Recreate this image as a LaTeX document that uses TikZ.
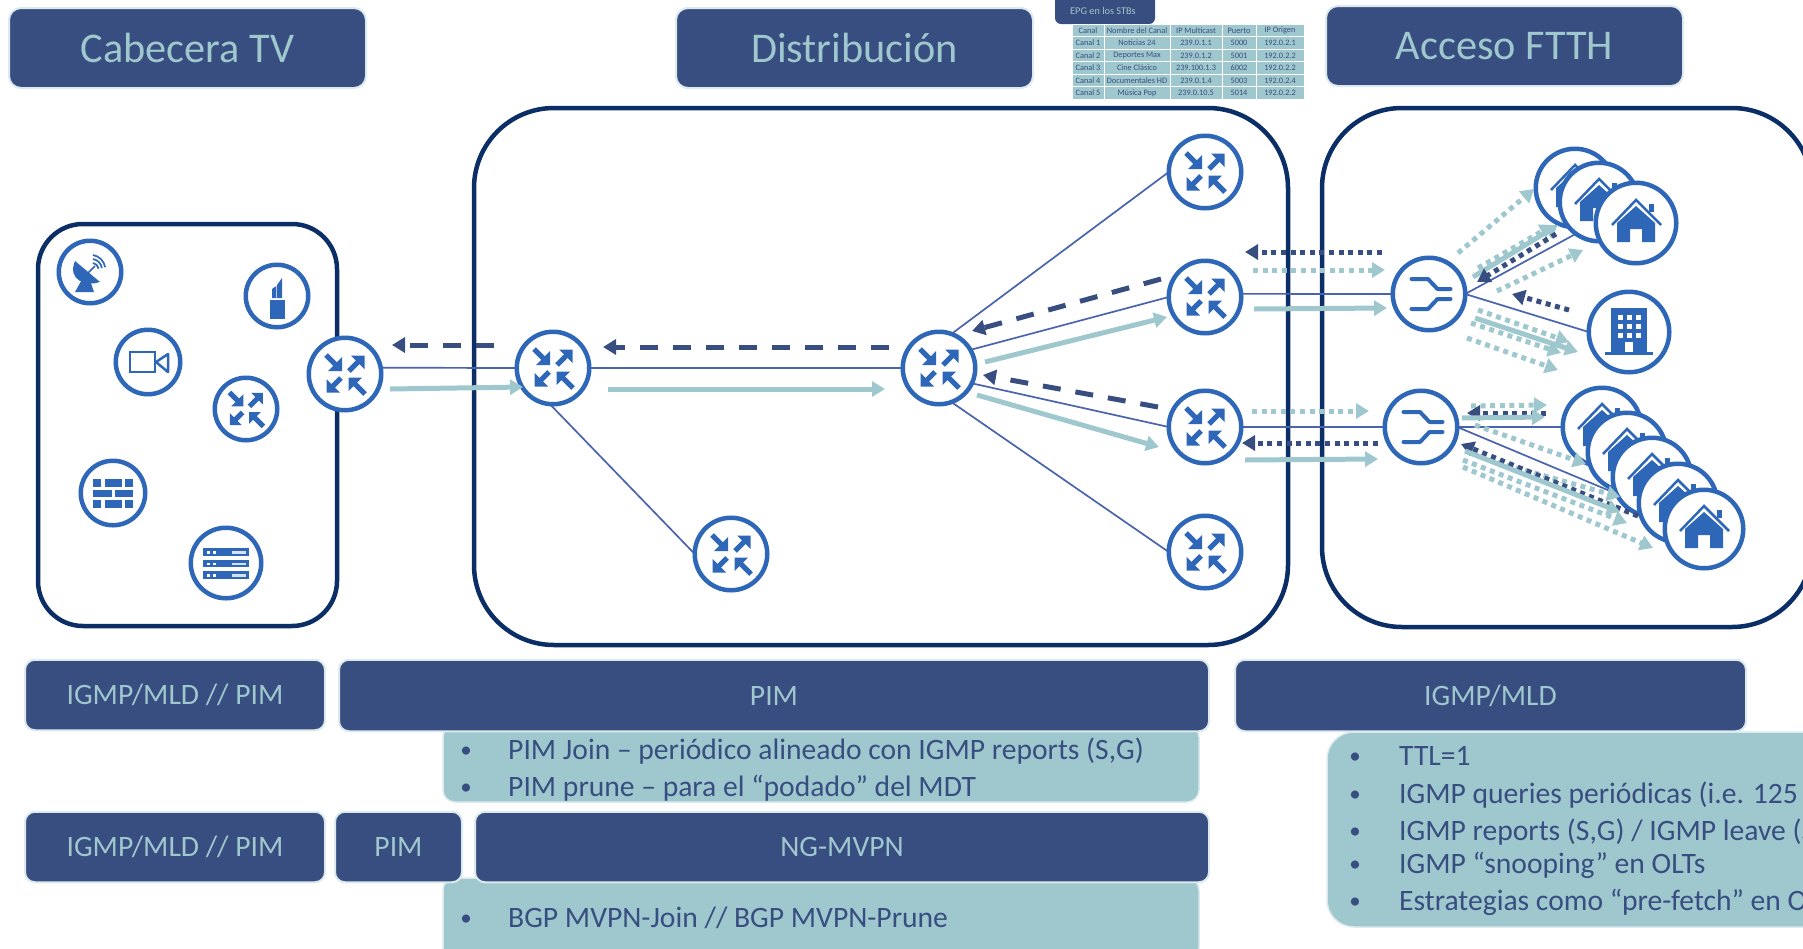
\documentclass[tikz,border=0pt]{standalone}
\usepackage{fontspec}
\setmainfont{Carlito}
\usetikzlibrary{arrows.meta}
\definecolor{navy}{HTML}{394E80}
\definecolor{frameblue}{HTML}{0B2E66}
\definecolor{iconblue}{HTML}{2E67B8}
\definecolor{teal2}{HTML}{9EC7CE}
\definecolor{edgeblue}{HTML}{4A63AD}
\definecolor{rimc}{HTML}{DCEAED}
\pgfdeclarelayer{bg}
\pgfsetlayers{bg,main}
\newcommand{\fs}[1]{\fontsize{#1}{#1}\selectfont}
\newcommand{\flow}[4]{\coordinate (#2a) at (#3); \coordinate (#2b) at (#4); \draw[#1] (#2a) -- (#2b);}
\newcommand{\dn}[2]{\raisebox{-#1pt}{#2}}
\tikzset{
  x=1pt,y=-1pt,
  frame/.style={draw=frameblue,line width=4.5pt},
  hdr/.style={fill=navy,draw=rimc,line width=2pt,rounded corners=12pt,text=teal2,font=\fs{42.3},inner sep=0pt,outer sep=0pt,align=center},
  bar/.style={fill=navy,draw=rimc,line width=2pt,rounded corners=10pt,text=teal2,font=\fs{29.6},inner sep=0pt,outer sep=0pt,align=center},
  noteline/.style={anchor=base west,text=navy,font=\fs{29.6},inner sep=0pt},
  dotmark/.style={anchor=base,text=navy,font=\fs{23},inner sep=0pt},
  tcell/.style={text=navy,font=\fs{8.3},inner sep=0pt,fill=teal2,draw=white,line width=.8pt,outer sep=0pt,minimum height=12.6pt},
  bub/.style={circle,draw=iconblue,line width=4.5pt,fill=white,inner sep=0pt,outer sep=0pt,minimum size=#1},
  bub/.default=72.5pt,
  thinline/.style={draw=edgeblue,line width=1.7pt},
  tsolid/.style={draw=teal2,line width=5pt,-{Triangle[length=13pt,width=15pt]}},
  tdot/.style={draw=teal2,line width=5pt,dash pattern=on 5pt off 4.6pt,-{Triangle[length=13pt,width=15pt]}},
  ndot/.style={draw=navy,line width=5pt,dash pattern=on 5pt off 4.6pt,-{Triangle[length=13pt,width=15pt]}},
  ndash/.style={draw=navy,line width=5pt,dash pattern=on 18pt off 15pt,-{Triangle[length=13pt,width=15pt]}},
  routerico/.pic={
    \fill[iconblue] (-3,-3)--(-3,-17)--(-17,-3)--cycle;
    \draw[iconblue,line width=5pt] (-19,-19)--(-8,-8);
    \fill[iconblue] (19.5,-18.5)--(6,-18.5)--(19.5,-5)--cycle;
    \draw[iconblue,line width=5pt] (4,-3)--(14,-13);
    \fill[iconblue] (-18.5,18.5)--(-5,18.5)--(-18.5,5)--cycle;
    \draw[iconblue,line width=5pt] (-4,4)--(-13,13);
    \fill[iconblue] (3.5,3.5)--(17,3.5)--(3.5,17)--cycle;
    \draw[iconblue,line width=5pt] (20,20)--(9,9);
  },
  splitico/.pic={
    \draw[iconblue,line width=4pt,line cap=round,line join=round] (-17.5,-15)--(-1,-15)--(8.5,-5)--(21.5,-5);
    \draw[iconblue,line width=4pt,line cap=round,line join=round] (-17.5,15)--(-1,15)--(8.5,5)--(21.5,5);
  },
  houseico/.pic={
    \fill[iconblue] (-19,0)--(0,-17)--(19,0)--(19,19)--(6,19)--(6,6)--(-6,6)--(-6,19)--(-19,19)--cycle;
    \draw[iconblue,line width=2.5pt] (-24,2)--(0,-23)--(25,2);
    \fill[iconblue] (13,-19) rectangle (18,-11);
  },
  buildico/.pic={
    \fill[iconblue] (-18,-24) rectangle (18,20);
    \fill[iconblue] (-24,20) rectangle (24,23);
    \foreach \wx in {-9,0,9} \foreach \wy in {-15,-6,3} {\fill[white] (\wx-2.5,\wy-2.5) rectangle (\wx+2.5,\wy+2.5);}
    \fill[white] (-4,10) rectangle (4,20);
  },
  satico/.pic={
    \fill[iconblue] (-15,-11) .. controls (-23,8) and (-4,15) .. (10,10) -- cycle;
    \fill[iconblue] (-6,4)--(-15,20)--(4,20)--(0,8)--cycle;
    \draw[iconblue,line width=1.7pt] (-2,1)--(5,-6);
    \draw[iconblue,line width=1.7pt] (3,-9) arc (-80:-10:7);
    \draw[iconblue,line width=1.7pt] (3,-13) arc (-80:-10:11);
    \draw[iconblue,line width=1.7pt] (3,-17) arc (-80:-10:15);
  },
  lipico/.pic={
    \fill[iconblue] (-7,4) rectangle (8,23);
    \fill[iconblue] (-5,2)--(-5,-7)--(-.6,-10)--(-.6,2)--cycle;
    \fill[iconblue] (0,2)--(0,-11)--(5,-18)--(5,2)--cycle;
  },
  camico/.pic={
    \draw[iconblue,line width=2.5pt] (-18,-10) rectangle (7,10);
    \draw[iconblue,line width=2.5pt,line join=round] (8,0)--(20,-8)--(20,10)--cycle;
  },
  wallico/.pic={
    \foreach \a/\b in {-14/-6,7/15} {
      \fill[iconblue] (-20,\a) rectangle (-12,\b);
      \fill[iconblue] (-8,\a) rectangle (9,\b);
      \fill[iconblue] (12,\a) rectangle (20,\b);
    }
    \fill[iconblue] (-20,-3) rectangle (-1,4);
    \fill[iconblue] (2,-3) rectangle (20,4);
  },
  servico/.pic={
    \foreach \a/\b in {-15/-7,-3/4,8/16} {
      \fill[iconblue] (-23,\a) rectangle (23,\b);
      \fill[white] (-19,\a+2.5) rectangle (-16.5,\b-2.5);
      \fill[white] (-13,\a+2.5) rectangle (-10.5,\b-2.5);
      \fill[white!80!iconblue] (6,\a+2.5) rectangle (20,\b-2.5);
    }
  },
}
\begin{document}
\begin{tikzpicture}
\useasboundingbox (0,0) rectangle (1803,948);
\clip (0,0) rectangle (1803,948);

% titles
\node[hdr,minimum width=357pt,minimum height=80pt] (h1) at (187.5,48) {\dn{2}{Cabecera TV}};
\node[hdr,minimum width=357pt,minimum height=80pt] (h2) at (854.5,48) {\dn{2}{Distribución}};
\node[hdr,minimum width=357pt,minimum height=80pt] (h3) at (1504.5,46) {\dn{2}{Acceso FTTH}};

% EPG tab and table
\node[fill=navy,rounded corners=6pt,minimum width=100pt,minimum height=30pt,inner sep=0pt] (epgtab) at (1105,9) {};
\node[anchor=west,text=teal2,font=\fs{10.3},inner sep=0pt] (epgtxt) at (1070,11) {EPG en los STBs};
\foreach \rn/\ry/\a/\b/\c/\d/\e in {
 0/30.5/Canal/Nombre del Canal/IP Multicast/Puerto/IP Origen,
 1/43/Canal 1/Noticias 24/239.0.1.1/5000/192.0.2.1,
 2/55.5/Canal 2/Deportes Max/239.0.1.2/5001/192.0.2.2,
 3/68/Canal 3/Cine Clásico/239.100.1.3/6002/192.0.2.2,
 4/80.5/Canal 4/Documentales HD/239.0.1.4/5003/192.0.2.4,
 5/93/Canal 5/Música Pop/239.0.10.5/5014/192.0.2.2}{
  \node[tcell,minimum width=32pt] (t\rn a) at (1088,\ry) {\a};
  \node[tcell,minimum width=66pt] (t\rn b) at (1137,\ry) {\b};
  \node[tcell,minimum width=52pt] (t\rn c) at (1196,\ry) {\c};
  \node[tcell,minimum width=34pt] (t\rn d) at (1239,\ry) {\d};
  \node[tcell,minimum width=48pt] (t\rn e) at (1280,\ry) {\e};
}

% frames
\begin{pgfonlayer}{bg}
\draw[frame,rounded corners=45pt] (38,224) rectangle (337,626);
\draw[frame,rounded corners=80pt] (474,108) rectangle (1288,645);
\draw[frame,rounded corners=80pt] (1322,108) rectangle (1812,627);
\end{pgfonlayer}

% left group
\node[bub=62.5pt] (sat) at (90,272) {};   \pic at (sat) {satico};
\node[bub=62.5pt] (lip) at (277,296) {};  \pic at (lip) {lipico};
\node[bub=64.5pt] (cam) at (148,362) {};  \pic at (cam) {camico};
\node[bub=62.5pt] (rl) at (246,409) {};   \pic[scale=.87] at (rl) {routerico};
\node[bub=64.5pt] (wall) at (113,493) {}; \pic at (wall) {wallico};
\node[bub=70.5pt] (serv) at (226,563) {}; \pic at (serv) {servico};
\node[bub] (r0) at (345,374) {};        \pic at (r0) {routerico};

% routers
\node[bub] (r1) at (553,368) {}; \pic at (r1) {routerico};
\node[bub] (r2) at (939,368) {}; \pic at (r2) {routerico};
\node[bub] (r3) at (731,554) {}; \pic at (r3) {routerico};
\node[bub] (r4) at (1205,172) {}; \pic at (r4) {routerico};
\node[bub] (r5) at (1205,297) {}; \pic at (r5) {routerico};
\node[bub] (r6) at (1205,427) {}; \pic at (r6) {routerico};
\node[bub] (r7) at (1205,552) {}; \pic at (r7) {routerico};

% splitters
\node[bub] (s1) at (1429,294) {}; \pic at (s1) {splitico};
\node[bub] (s2) at (1421,427) {}; \pic at (s2) {splitico};

% homes
\node[bub=78.5pt] (h11) at (1575,188) {}; \pic at (h11) {houseico};
\node[bub=78.5pt] (h12) at (1599,202) {}; \pic at (h12) {houseico};
\node[bub=80.5pt] (h13) at (1636,223) {}; \pic at (h13) {houseico};
\node[bub=80.5pt] (bld) at (1629,332) {}; \pic at (bld) {buildico};
\node[bub=78.5pt] (h21) at (1602,427) {}; \pic at (h21) {houseico};
\node[bub=78.5pt] (h22) at (1627,452) {}; \pic at (h22) {houseico};
\node[bub=78.5pt] (h23) at (1652,477) {}; \pic at (h23) {houseico};
\node[bub=78.5pt] (h24) at (1678,503) {}; \pic at (h24) {houseico};
\node[bub=78.5pt] (h25) at (1704,529) {}; \pic at (h25) {houseico};

% links
\begin{pgfonlayer}{bg}
\draw[thinline] (r0.10) -- (r1.west);
\draw[thinline] (r1.east) -- (r2.west);
\draw[thinline] (r1.-95) -- (r3.west);
\draw[thinline] (r2.70) -- (r4.west);
\draw[thinline] (r2.30) -- (r5.west);
\draw[thinline] (r2.-25) -- (r6.west);
\draw[thinline] (r2.-70) -- (r7.west);
\draw[thinline] (r5.5) -- (s1.west);
\draw[thinline] (r6.east) -- (s2.west);
\draw[thinline] (s1.east) -- (h13.west);
\draw[thinline] (s1.east) -- (bld.west);
\draw[thinline] (s2.east) -- (h21.west);
\draw[thinline] (s2.east) -- (h24.west);
\end{pgfonlayer}

% flows
\flow{ndash}{fa}{494,345}{392,345}
\flow{tsolid}{fb}{390,389}{523,387}
\flow{ndash}{fc}{889,347}{603,347}
\flow{tsolid}{fd}{608,389}{885,389}
\flow{ndash}{fe}{1161,279}{972,331}
\flow{tsolid}{ff}{985,362}{1167,317}
\flow{ndash}{fg}{1158,407}{983,375}
\flow{tsolid}{fh}{977,395}{1159,447}
\flow{ndot}{fi}{1382,252}{1245,252}
\flow{tdot}{fj}{1253,270}{1385,270}
\flow{tsolid}{fk}{1254,309}{1387,308}
\flow{tdot}{fl}{1458,253}{1534,189}
\flow{tdot}{fm}{1478,268}{1553,225}
\flow{tsolid}{fn}{1473,277}{1558,225}
\flow{ndot}{fo}{1556,234}{1477,282}
\flow{tdot}{fp}{1497,291}{1583,250}
\flow{ndot}{fq}{1569,310}{1512,294}
\flow{tdot}{fr}{1478,310}{1569,342}
\flow{tsolid}{fs}{1475,318}{1578,352}
\flow{tdot}{ft}{1471,323}{1561,353}
\flow{tdot}{fu}{1467,338}{1558,370}
\flow{tdot}{ga}{1252,411}{1369,411}
\flow{ndot}{gb}{1378,443}{1242,443}
\flow{tsolid}{gc}{1245,460}{1378,459}
\flow{tdot}{gd}{1471,406}{1547,405}
\flow{ndot}{ge}{1546,413}{1467,413}
\flow{tsolid}{gf}{1462,418}{1545,417}
\flow{tdot}{gg}{1475,425}{1586,464}
\flow{tdot}{gh}{1488,460}{1620,497}
\flow{ndot}{gi}{1638,516}{1461,444}
\flow{tsolid}{gj}{1465,451}{1620,512}
\flow{tdot}{gk}{1463,460}{1627,523}
\flow{tdot}{gl}{1463,467}{1653,548}

% notes (drawn first so the bars overlap their tops)
\path[fill=teal2,draw=rimc,line width=1.5pt,rounded corners=12pt] (443,725) rectangle (1199,802);
\path[fill=teal2,draw=rimc,line width=1.5pt,rounded corners=12pt] (443,878) rectangle (1199,960);
\path[fill=teal2,draw=rimc,line width=1.5pt] (1810,732) [rounded corners=27pt] -- (1327,732) -- (1327,927) [sharp corners] -- (1810,927) -- cycle;

% bars
\node[bar,minimum width=300pt,minimum height=70.5pt] (b1) at (175,695) {\dn{1}{IGMP/MLD // PIM}};
\node[bar,minimum width=870pt,minimum height=71.5pt] (b2) at (774,695.5) {\dn{1}{PIM}};
\node[bar,minimum width=511pt,minimum height=71.5pt] (b3) at (1490.5,695.5) {\dn{1}{IGMP/MLD}};
\node[bar,minimum width=300pt,minimum height=70.5pt] (b4) at (175,847) {IGMP/MLD // PIM};
\node[bar,minimum width=127pt,minimum height=70.5pt] (b5) at (398.5,847) {PIM};
\node[bar,minimum width=734pt,minimum height=70.5pt] (b6) at (842,847) {NG-MVPN};

% note text
\foreach \nm/\bx/\tx/\by/\txt in {
 a/466/508/759/{PIM Join – periódico alineado con IGMP reports (S,G)},
 b/466/508/796/{PIM prune – para el “podado” del MDT},
 c/466/508/927/{BGP MVPN-Join // BGP MVPN-Prune},
 d/1355/1399/765/{TTL=1},
 e/1355/1399/803/{IGMP queries periódicas (i.e. 125 s)},
 f/1355/1399/840/{IGMP reports (S,G) / IGMP leave (S,G)},
 g/1355/1399/873/{IGMP “snooping” en OLTs},
 h/1355/1399/910/{Estrategias como “pre-fetch” en OLTs}}{
  \node[dotmark] (d\nm) at (\bx,\by-2) {•};
  \node[noteline] (n\nm) at (\tx,\by) {\txt};
}
\end{tikzpicture}
\end{document}
